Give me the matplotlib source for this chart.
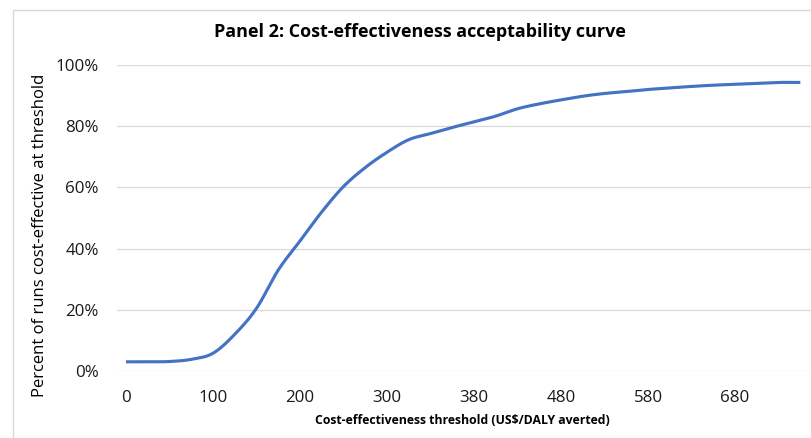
"""
Panel 2: cost-effectiveness acceptability curve (Excel-style smoothed line)
"""
import numpy as np
import matplotlib
matplotlib.use('Agg')
import matplotlib.pyplot as plt
from matplotlib.patches import Rectangle
from matplotlib.ticker import FuncFormatter

# ── Data ─────────────────────────────────────────────────────
thresholds = [0, 25, 50, 75, 100, 125, 150, 175, 200, 225, 250, 275, 300,
              320, 340, 360, 380, 405, 430, 455, 480, 505, 530, 555, 580,
              605, 630, 655, 680, 705, 730, 755]
pct_cost_effective = [3.0, 3.0, 3.1, 3.8, 5.8, 12.0, 20.5, 33.0, 42.5, 52.0,
                      60.3, 66.5, 71.5, 75.6, 77.6, 79.6, 81.4, 83.3, 85.7,
                      87.3, 88.6, 89.8, 90.7, 91.3, 92.0, 92.5, 93.0, 93.4,
                      93.7, 94.0, 94.3, 94.3]
label_every = 4
y_ticks = [0, 20, 40, 60, 80, 100]

title = 'Panel 2: Cost-effectiveness acceptability curve'
x_title = 'Cost-effectiveness threshold (US$/DALY averted)'
y_title = 'Percent of runs cost-effective at threshold'

FONT = 'Open Sans'
LINE_BLUE = '#4472C4'
GRID_GREY = '#D9D9D9'
TEXT = '#1a1a1a'


# ── Excel-like smoothing (Catmull-Rom as cubic Bezier) ──────
def smooth(xs, ys, n=30):
    xs = np.asarray(xs, float)
    ys = np.asarray(ys, float)
    px = np.concatenate([[xs[0]], xs, [xs[-1]]])
    py = np.concatenate([[ys[0]], ys, [ys[-1]]])
    out_x, out_y = [], []
    t = np.linspace(0, 1, n)
    for i in range(1, len(px) - 2):
        p0 = np.array([px[i], py[i]])
        p3 = np.array([px[i + 1], py[i + 1]])
        c1 = p0 + (np.array([px[i + 1], py[i + 1]]) - np.array([px[i - 1], py[i - 1]])) / 6
        c2 = p3 - (np.array([px[i + 2], py[i + 2]]) - np.array([px[i], py[i]])) / 6
        b = ((1 - t) ** 3)[:, None] * p0 + (3 * (1 - t) ** 2 * t)[:, None] * c1 \
            + (3 * (1 - t) * t ** 2)[:, None] * c2 + (t ** 3)[:, None] * p3
        out_x.extend(b[:, 0])
        out_y.extend(b[:, 1])
    return np.array(out_x), np.array(out_y)


# ── Figure ───────────────────────────────────────────────────
W, H = 811, 438
fig = plt.figure(figsize=(W / 100, H / 100), dpi=100)
fig.patch.set_facecolor('white')

# chart-area border (cropped on right/bottom in the reference)
fig.add_artist(Rectangle((13 / W, -0.1), 2, 1 - 10 / H + 0.1,
                         transform=fig.transFigure, fill=False,
                         edgecolor=GRID_GREY, linewidth=1.0))

ax = fig.add_axes([117 / W, 1 - 371 / H, 1 - 117 / W, (371 - 65) / H])
idx = np.arange(len(thresholds))
sx, sy = smooth(idx, pct_cost_effective)
ax.plot(sx, sy, color=LINE_BLUE, linewidth=2.25, solid_capstyle='butt', zorder=3)

ax.set_xlim(-0.414, 31.49)
ax.set_ylim(0, 100)
ax.set_yticks(y_ticks)
ax.yaxis.set_major_formatter(FuncFormatter(lambda v, _: f'{v:.0f}%'))
tick_pos = idx[::label_every]
ax.set_xticks(tick_pos)
ax.set_xticklabels([str(thresholds[i]) for i in tick_pos])

ax.grid(axis='y', color=GRID_GREY, linewidth=0.9)
ax.set_axisbelow(True)
for s in ax.spines.values():
    s.set_visible(False)
ax.tick_params(length=0, labelsize=12.2, labelcolor=TEXT)
ax.tick_params(axis='y', pad=13)
ax.tick_params(axis='x', pad=14)
for lab in ax.get_xticklabels() + ax.get_yticklabels():
    lab.set_fontfamily(FONT)

fig.text(462 / W, 1 - 420 / H, x_title, ha='center', va='center',
         fontsize=8.8, fontweight='bold', family=FONT, color='black')
fig.text(40 / W, 1 - 235 / H, y_title, ha='center', va='center', rotation=90,
         fontsize=12, family=FONT, color='black')
fig.text(420 / W, 1 - 32 / H, title, ha='center', va='center',
         fontsize=13, fontweight='bold', family=FONT, color='black')

fig.savefig('out.png', dpi=100)
